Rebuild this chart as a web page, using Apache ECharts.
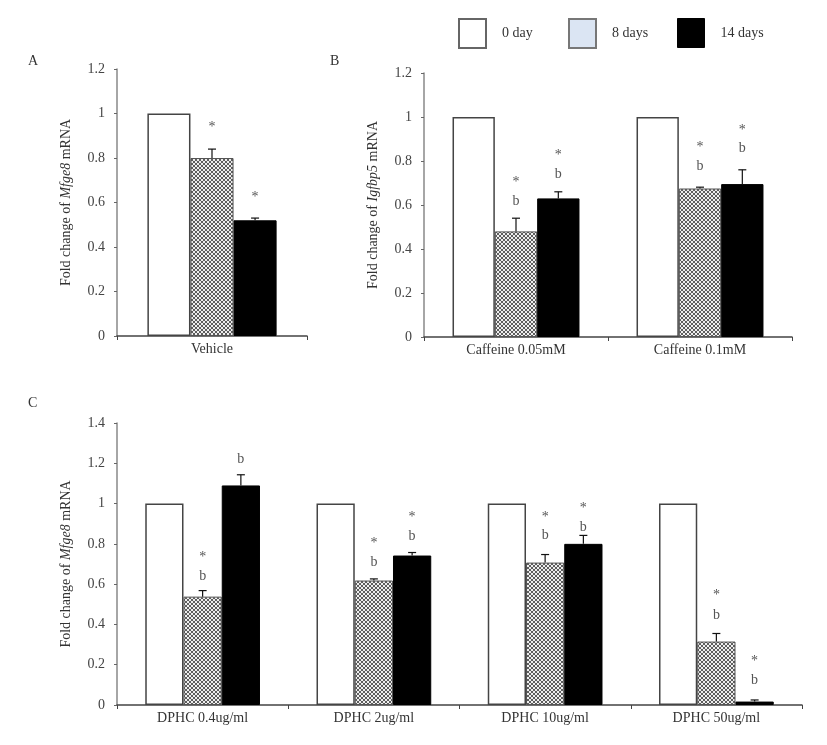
<!DOCTYPE html>
<html><head><meta charset="utf-8">
<script src="https://cdn.jsdelivr.net/npm/echarts@6/dist/echarts.min.js"></script>
<style>html,body{margin:0;padding:0;background:#fff}#c{width:827px;height:745px}</style>
</head><body><div id="c"></div>
<script>
// ---------- data ----------
const seriesNames = ['0 day', '8 days', '14 days'];

const catA = ['Vehicle'];
const day0A = [1];
const day8A = [0.80];
const day14A = [0.52];
const err8A = [0.04];
const err14A = [0.01];
const marksA = [[0, 1, 0.95, '*'], [0, 2, 0.635, '*']];

const catB = ['Caffeine 0.05mM', 'Caffeine 0.1mM'];
const day0B = [1, 1];
const day8B = [0.48, 0.675];
const day14B = [0.63, 0.695];
const err8B = [0.06, 0.006];
const err14B = [0.03, 0.065];
const marksB = [[0, 1, 0.715, '*'], [0, 1, 0.615, 'b'], [0, 2, 0.84, '*'], [0, 2, 0.74, 'b'],
                [1, 1, 0.874, '*'], [1, 1, 0.778, 'b'], [1, 2, 0.954, '*'], [1, 2, 0.859, 'b']];

const catC = ['DPHC 0.4ug/ml', 'DPHC 2ug/ml', 'DPHC 10ug/ml', 'DPHC 50ug/ml'];
const day0C = [1, 1, 1, 1];
const day8C = [0.538, 0.618, 0.707, 0.315];
const day14C = [1.09, 0.742, 0.80, 0.017];
const err8C = [0.03, 0.008, 0.04, 0.04];
const err14C = [0.053, 0.015, 0.042, 0.008];
const marksC = [[0, 1, 0.749, '*'], [0, 1, 0.638, 'b'], [0, 2, 1.221, 'b'],
                [1, 1, 0.817, '*'], [1, 1, 0.709, 'b'], [1, 2, 0.949, '*'], [1, 2, 0.837, 'b'],
                [2, 1, 0.948, '*'], [2, 1, 0.842, 'b'], [2, 2, 0.989, '*'], [2, 2, 0.883, 'b'],
                [3, 1, 0.558, '*'], [3, 1, 0.444, 'b'], [3, 2, 0.232, '*'], [3, 2, 0.121, 'b']];

const yMaxAB = 1.2, yMaxC = 1.4, yStep = 0.2;

// ---------- styling ----------
const FONT = '"Liberation Serif", "DejaVu Serif", serif';
function makeHatch() {
  const cv = document.createElement('canvas');
  cv.width = 4; cv.height = 4;
  const g = cv.getContext('2d');
  g.fillStyle = '#eeeeee'; g.fillRect(0, 0, 4, 4);
  g.fillStyle = '#5e5e5e';
  [[0,0],[1,1],[2,2],[3,3],[3,0],[2,1],[1,2],[0,3]].forEach(p => g.fillRect(p[0], p[1], 1, 1));
  return cv;
}
const hatch = { image: makeHatch(), repeat: 'repeat' };

const panels = [
  { cats: catA, v: [day0A, day8A, day14A], e: [null, err8A, err14A], marks: marksA, gap: 0.32,
    grid: { left: 117, top: 69, width: 190, height: 267 }, max: yMaxAB, gene: 'Mfge8' },
  { cats: catB, v: [day0B, day8B, day14B], e: [null, err8B, err14B], marks: marksB, gap: 0.31,
    grid: { left: 424, top: 73, width: 368, height: 264 }, max: yMaxAB, gene: 'Igfbp5' },
  { cats: catC, v: [day0C, day8C, day14C], e: [null, err8C, err14C], marks: marksC, gap: 0.33,
    grid: { left: 117, top: 423, width: 685, height: 282 }, max: yMaxC, gene: 'Mfge8' }
];

const barStyles = [
  { color: '#ffffff', borderColor: '#444', borderWidth: 1.5 },
  { color: hatch, borderColor: '#555', borderWidth: 1 },
  { color: '#000000', borderColor: '#000', borderWidth: 1 }
];

const grids = [], xAxes = [], yAxes = [], series = [];
panels.forEach((p, gi) => {
  grids.push(p.grid);
  xAxes.push({
    type: 'category', gridIndex: gi, data: p.cats,
    axisLine: { lineStyle: { color: '#444', width: 1.5 } },
    axisTick: { show: true, length: 4, alignWithLabel: false, lineStyle: { color: '#444' } },
    axisLabel: { fontFamily: FONT, fontSize: 14, color: '#333', margin: 6 }
  });
  yAxes.push({
    type: 'value', gridIndex: gi, min: 0, max: p.max, interval: yStep,
    splitLine: { show: false },
    axisLine: { show: true, lineStyle: { color: '#888', width: 1.5 } },
    axisTick: { show: true, length: 3, lineStyle: { color: '#666' } },
    axisLabel: { fontFamily: FONT, fontSize: 14, color: '#444', margin: 12 },
    name: 'Fold change of {i|' + p.gene + '} mRNA', nameLocation: 'middle', nameGap: 44, nameRotate: 90,
    nameTextStyle: { fontFamily: FONT, fontSize: 14, color: '#333',
      rich: { i: { fontFamily: FONT, fontSize: 14, fontStyle: 'italic', color: '#333' } } }
  });
  p.v.forEach((vals, si) => {
    series.push({
      type: 'bar', name: seriesNames[si], xAxisIndex: gi, yAxisIndex: gi,
      data: vals, barGap: 0, barCategoryGap: (p.gap * 100) + '%',
      itemStyle: barStyles[si], z: 2, silent: true
    });
  });
  // error bars
  const errData = [];
  p.e.forEach((errs, si) => {
    if (!errs) return;
    errs.forEach((er, ci) => errData.push([ci, p.v[si][ci], er, si]));
  });
  const gap = p.gap;
  series.push({
    type: 'custom', xAxisIndex: gi, yAxisIndex: gi, z: 5, silent: true,
    data: errData, encode: { x: 0, y: 1 },
    renderItem: function (params, api) {
      const c = api.value(0), v = api.value(1), er = api.value(2), s = api.value(3);
      const band = api.size([1, 0])[0];
      const bw = band * (1 - gap) / 3;
      const p0 = api.coord([c, v]);
      const p1 = api.coord([c, v + er]);
      const x = p0[0] + (s - 1) * bw;
      const st = { stroke: '#111', lineWidth: 1.2 };
      return { type: 'group', children: [
        { type: 'line', shape: { x1: x, y1: p0[1], x2: x, y2: p1[1] }, style: st },
        { type: 'line', shape: { x1: x - 4, y1: p1[1], x2: x + 4, y2: p1[1] }, style: st }
      ] };
    }
  });
  // significance marks
  const marks = p.marks;
  series.push({
    type: 'custom', xAxisIndex: gi, yAxisIndex: gi, z: 6, silent: true,
    data: marks.map(m => [m[0], m[2], m[1]]), encode: { x: 0, y: 1 },
    renderItem: function (params, api) {
      const c = api.value(0), y = api.value(1), s = api.value(2);
      const txt = marks[params.dataIndex][3];
      const band = api.size([1, 0])[0];
      const bw = band * (1 - gap) / 3;
      const pt = api.coord([c, y]);
      return { type: 'text', style: {
        x: pt[0] + (s - 1) * bw, y: pt[1] + (txt === '*' ? 3 : 0), text: txt,
        fill: '#555', font: '14px ' + FONT, textAlign: 'center', textVerticalAlign: 'middle' } };
    }
  });
});

const TS = { fontFamily: FONT, fontSize: 14, fontWeight: 'normal', color: '#333' };
const legendStyles = [
  { color: '#fff', borderColor: '#666', borderWidth: 2 },
  { color: '#dbe5f3', borderColor: '#777', borderWidth: 2 },
  { color: '#000', borderColor: '#000', borderWidth: 1 }
];
const legendLefts = [458, 568, 677];
const legends = seriesNames.map((n, i) => ({
  left: legendLefts[i], top: 18, padding: 0, icon: 'rect', itemWidth: 27, itemHeight: 29,
  selectedMode: false,
  textStyle: { fontFamily: FONT, fontSize: 14, color: '#333', padding: [0, 0, 0, 11] },
  data: [{ name: n, itemStyle: legendStyles[i] }]
}));

const option = {
  animation: false,
  backgroundColor: '#fff',
  title: [
    { text: 'A', left: 23, top: 49, textStyle: TS },
    { text: 'B', left: 325, top: 49, textStyle: TS },
    { text: 'C', left: 23, top: 391, textStyle: TS }
  ],
  legend: legends,
  grid: grids, xAxis: xAxes, yAxis: yAxes, series: series
};
echarts.init(document.getElementById('c'), null, { renderer: 'canvas' }).setOption(option);
</script></body></html>
